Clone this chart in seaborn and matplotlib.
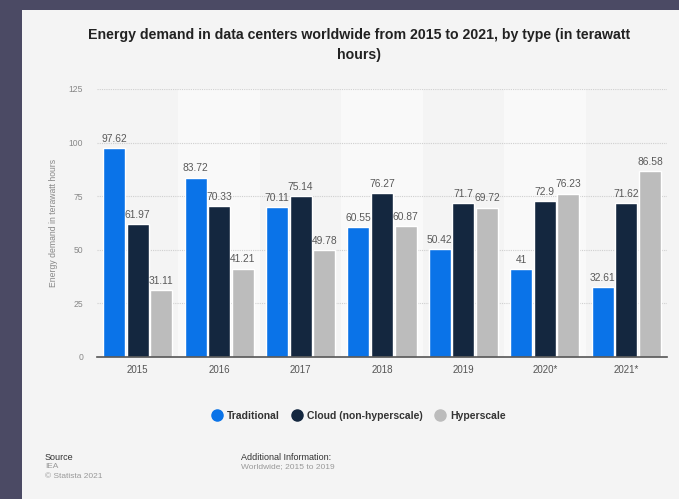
import matplotlib
matplotlib.use("Agg")
import matplotlib.pyplot as plt
from matplotlib.patches import Rectangle
from matplotlib.lines import Line2D
import seaborn as sns
import pandas as pd

years = ["2015", "2016", "2017", "2018", "2019", "2020*", "2021*"]
series_names = ["Traditional", "Cloud (non-hyperscale)", "Hyperscale"]
traditional = [97.62, 83.72, 70.11, 60.55, 50.42, 41, 32.61]
cloud = [61.97, 70.33, 75.14, 76.27, 71.7, 72.9, 71.62]
hyperscale = [31.11, 41.21, 49.78, 60.87, 69.72, 76.23, 86.58]
colors = ["#0a73e8", "#14273f", "#bcbcbc"]
y_ticks = [0, 25, 50, 75, 100, 125]

rows = []
for name, vals in zip(series_names, [traditional, cloud, hyperscale]):
    for y, v in zip(years, vals):
        rows.append({"year": y, "type": name, "value": v})
df = pd.DataFrame(rows)

sns.set_style("white")
plt.rcParams["font.family"] = ["Liberation Sans", "DejaVu Sans"]

W, H = 679, 499
fig = plt.figure(figsize=(W / 100, H / 100), dpi=100)
fig.patch.set_facecolor("#4b4a64")
card_color = "#f4f4f4"
card = Rectangle((22 / W, 0), 1 - 22 / W, (H - 10) / H,
                 transform=fig.transFigure, facecolor=card_color,
                 edgecolor="none", zorder=-10)
fig.patches.append(card)

ax = fig.add_axes([97 / W, 1 - 357 / H, (667 - 97) / W, (357 - 89) / H])
ax.set_zorder(2)
ax.set_facecolor(card_color)

for i in range(len(years)):
    if i % 2 == 1:
        ax.axvspan(i - 0.5, i + 0.5, color="#f9f9f9", zorder=0, lw=0)

sns.barplot(data=df, x="year", y="value", hue="type", hue_order=series_names,
            palette=colors, width=0.87, gap=0.07, ax=ax, legend=False,
            saturation=1, zorder=3)

for cont, vals in zip(ax.containers, [traditional, cloud, hyperscale]):
    ax.bar_label(cont, labels=[f"{v:g}" for v in vals], padding=3,
                 fontsize=7.4, color="#5a5a5a")

ax.set_xlim(-0.5, len(years) - 0.5)
ax.set_ylim(0, 125)
ax.set_yticks(y_ticks)
ax.set_yticklabels([str(t) for t in y_ticks])
ax.grid(axis="y", color="#cfcfcf", linestyle=(0, (1, 1)), linewidth=0.8, zorder=1)
ax.set_axisbelow(True)
for s in ["top", "right", "left"]:
    ax.spines[s].set_visible(False)
ax.spines["bottom"].set_color("#555555")
ax.spines["bottom"].set_linewidth(1.2)
ax.spines["bottom"].set_zorder(5)
ax.tick_params(axis="y", length=0, pad=10, labelsize=6.2, labelcolor="#888888")
ax.tick_params(axis="x", length=0, pad=6, labelsize=7, labelcolor="#555555")
ax.set_xlabel("")
ax.set_ylabel("Energy demand in terawatt hours", fontsize=6.2, color="#888888",
              labelpad=8)

fig.text(359 / W, 1 - 35 / H, "Energy demand in data centers worldwide from 2015 to 2021, by type (in terawatt",
         ha="center", va="center", fontsize=10.15, fontweight="bold", color="#222222")
fig.text(359 / W, 1 - 55 / H, "hours)", ha="center", va="center", fontsize=10.15,
         fontweight="bold", color="#222222")

handles = [Line2D([], [], marker="o", linestyle="none", markersize=8,
                  markerfacecolor=c, markeredgecolor=c) for c in colors]
leg = fig.legend(handles, series_names, loc="center", bbox_to_anchor=(358 / W, 1 - 416 / H),
                 ncol=3, frameon=False, fontsize=7.5, handletextpad=0.4,
                 columnspacing=1.0, handlelength=1.2)
for t in leg.get_texts():
    t.set_fontweight("bold")
    t.set_color("#333333")

fig.text(45 / W, 1 - 457 / H, "Source", fontsize=6.5, color="#333333", va="center")
fig.text(45 / W, 1 - 467 / H, "IEA", fontsize=6, color="#999999", va="center")
fig.text(45 / W, 1 - 477 / H, "© Statista 2021", fontsize=6, color="#999999", va="center")
fig.text(241 / W, 1 - 457 / H, "Additional Information:", fontsize=6.5, color="#333333", va="center")
fig.text(241 / W, 1 - 467 / H, "Worldwide; 2015 to 2019", fontsize=6, color="#999999", va="center")

fig.savefig("out.png", dpi=100, facecolor=fig.get_facecolor())
